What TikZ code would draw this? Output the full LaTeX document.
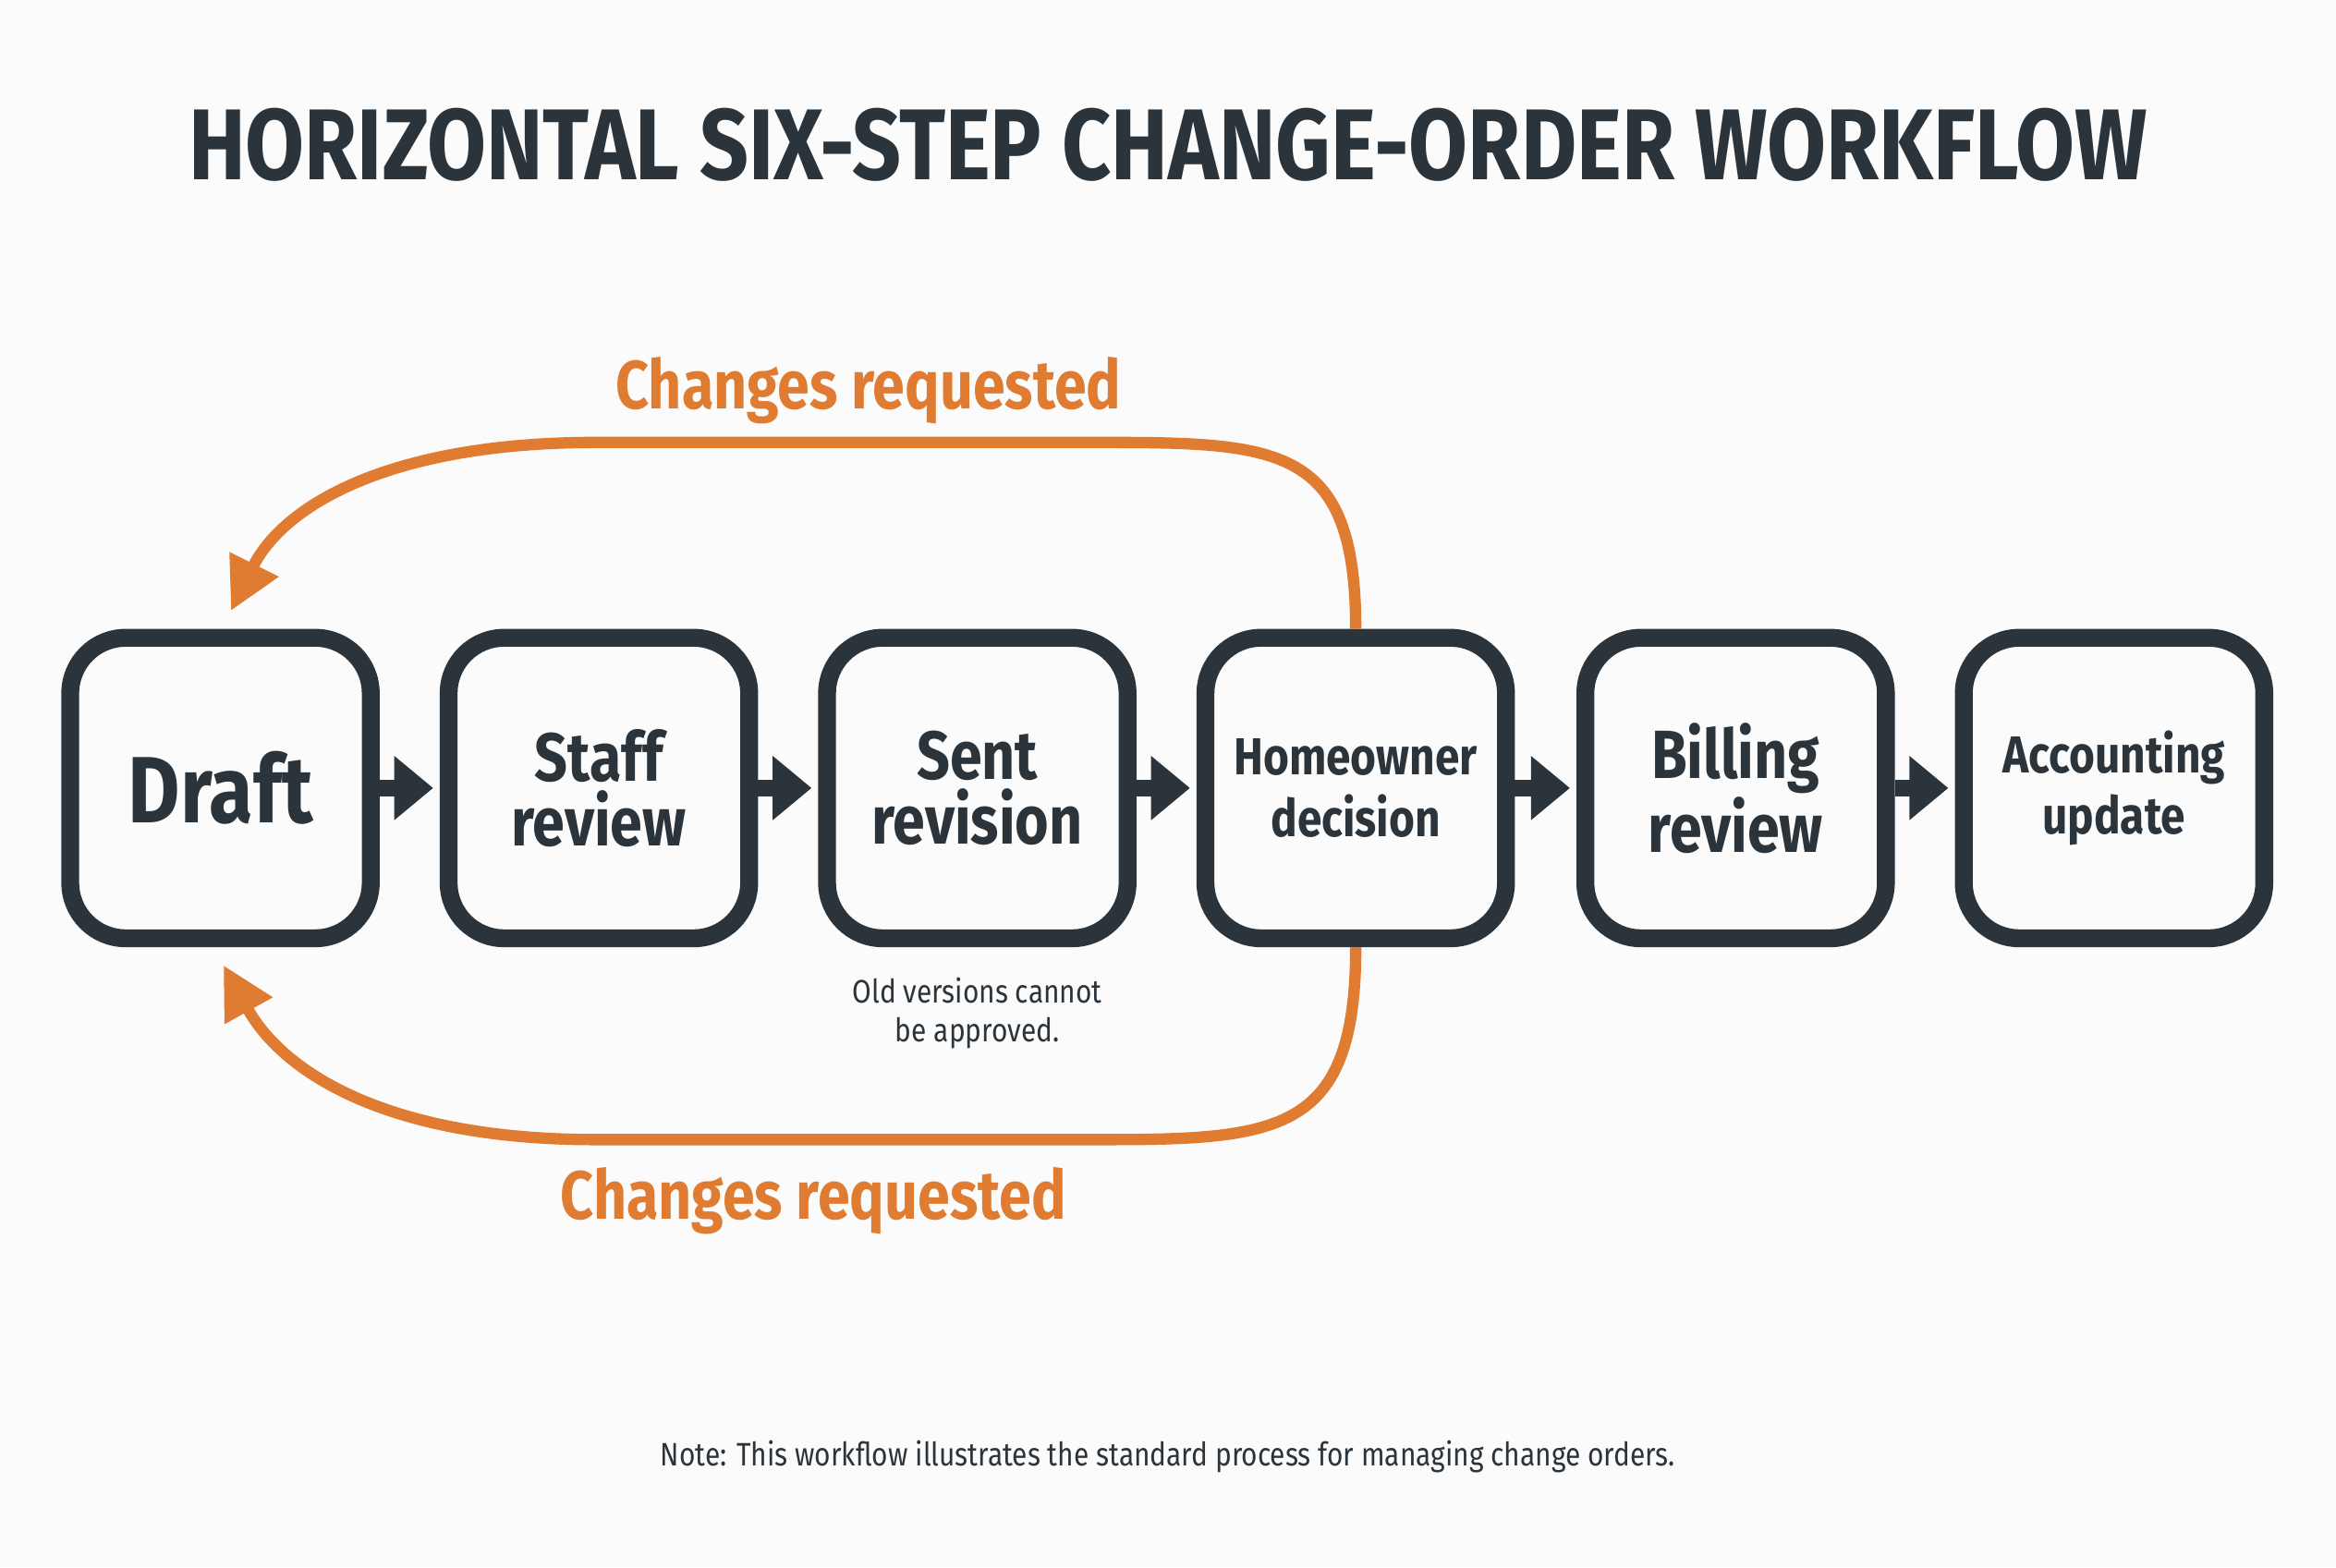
\documentclass[tikz,border=0pt]{standalone}
\usepackage{fontspec}
\setmainfont{Fira Sans}[FakeStretch=0.85]
\usetikzlibrary{positioning,arrows.meta}
\definecolor{ink}{HTML}{2B333B}
\definecolor{accent}{HTML}{E07B32}
\begin{document}
\begin{tikzpicture}[x=0.01612cm,y=-0.01612cm,
  stage/.style={draw=ink,line width=5.5pt,rounded corners=0.6cm,minimum size=3.25cm,
    align=center,text=ink,font=\fontsize{21}{20}\selectfont\bfseries},
  flow/.style={draw=ink,line width=5pt,-{Triangle[length=12pt,width=19pt]},shorten >=2pt},
  loop/.style={draw=accent,line width=3.5pt,-{Triangle[length=16pt,width=16pt]}},
  tag/.style={text=accent,font=\fontsize{21}{24}\selectfont\bfseries}]
\useasboundingbox (0,0) rectangle (1568,1052);
\fill[white!97!gray] (0,0) rectangle (1568,1052);

% Title
\node[text=ink,font=\fontsize{31}{36}\selectfont\bfseries] (title) at (784,97) {HORIZONTAL SIX-STEP CHANGE-ORDER WORKFLOW};

% Stages
\node[stage,font=\fontsize{29}{30}\selectfont\bfseries] (draft) at (148,529) {Draft};
\node[stage] (staff) at (402,529) {Staff\\review};
\node[stage] (sent) at (656,529) {Sent\\revision};
\node[stage,font=\fontsize{16}{19}\selectfont\bfseries] (home) at (910,529) {Homeowner\\decision};
\node[stage] (billing) at (1165,529) {Billing\\review};
\node[stage,font=\fontsize{16}{19}\selectfont\bfseries] (acct) at (1419,529) {Accounting\\update};

% Flow
\foreach \a/\b in {draft/staff,staff/sent,sent/home,home/billing,billing/acct}
  \draw[flow] (\a.east) -- (\b.west);

% Loops back to draft
\coordinate (topend) at (155,410);
\coordinate (botend) at (150,648);
\draw[loop] (home.north) .. controls (910,300) and (860,297) .. (740,297)
  -- (400,297) .. controls (260,297) and (190,340) .. (topend);
\draw[loop] (home.south) .. controls (910,760) and (860,765) .. (740,765)
  -- (400,765) .. controls (260,765) and (190,720) .. (botend);
\node[tag] (toptag) at (583,262) {Changes requested};
\node[tag] (bottag) at (546,806) {Changes requested};

% Notes
\node[below=0.2cm of sent,align=center,text=ink,font=\fontsize{10}{12}\selectfont] (old) {Old versions cannot\\be approved.};
\node[text=ink,font=\fontsize{10}{12}\selectfont] (note) at (784,978) {Note: This workflow illustrates the standard process for managing change orders.};
\end{tikzpicture}
\end{document}
